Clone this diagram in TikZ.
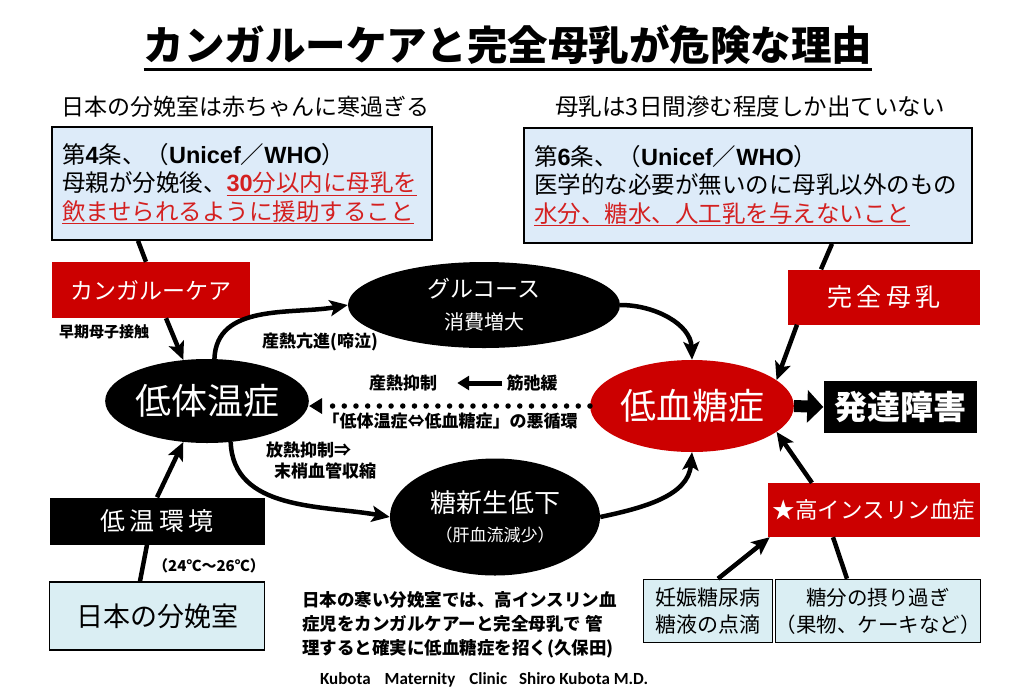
\documentclass[tikz,border=0pt]{standalone}
\usepackage{fontspec}
\setmainfont{Noto Sans CJK JP}
\newfontfamily\latinfont{Liberation Sans}
\newfontfamily\footfont{Carlito}
\usetikzlibrary{shapes.geometric,arrows.meta}
\definecolor{boxred}{HTML}{CC0000}
\definecolor{textred}{HTML}{D42020}
\definecolor{paleblue}{HTML}{DDEBF9}
\definecolor{palecyan}{HTML}{DAEEF3}
\newcommand{\fsz}[2]{\fontsize{#1pt}{#2pt}\selectfont}
\newcommand{\latb}{\latinfont\bfseries}
\newcommand{\redu}[1]{\textcolor{textred}{\underline{#1}}}
\begin{document}
\begin{tikzpicture}[x=1pt,y=-1pt,
  blk/.style={fill=black,text=white,inner sep=0pt},
  redbox/.style={fill=boxred,text=white,inner sep=0pt},
  art/.style={draw=black,line width=1.6pt,fill=paleblue,inner sep=0pt,align=left,font=\fsz{23.5}{28.5}},
  src/.style={draw=black,line width=1.6pt,fill=palecyan,inner sep=0pt,align=center},
  blob/.style={ellipse,fill=black,text=white,inner sep=0pt,align=center},
  arr/.style={line width=4.5pt,-{Stealth[length=18pt,width=16pt,inset=4pt]}},
  bar/.style={line width=4.5pt},
  lbl/.style={font=\fsz{17}{21}\bfseries,inner sep=0pt}]
\useasboundingbox (0,0) rectangle (1024,691);
\node[font=\fsz{40.5}{48}\bfseries,inner sep=0pt] (title) at (508,45) {カンガルーケアと完全母乳が危険な理由};
\draw[line width=3pt] ([yshift=-4pt]title.south west) -- ([yshift=-4pt]title.south east);
\node[font=\fsz{23}{28}] (subl) at (245,107) {日本の分娩室は赤ちゃんに寒過ぎる};
\node[font=\fsz{23.5}{28}] (subr) at (750,107) {母乳は3日間滲む程度しか出ていない};
\node[art,minimum width=380pt,minimum height=113pt,text width=360pt] (art4) at (242,183.5)
  {第{\latb 4}条、（{\latb Unicef}／{\latb WHO}）\\
   母親が分娩後、\redu{{\latb 30}分以内に母乳を}\\
   \redu{飲ませられるように援助すること}};
\node[art,minimum width=448pt,minimum height=115pt,text width=428pt] (art6) at (748,185.5)
  {第{\latb 6}条、（{\latb Unicef}／{\latb WHO}）\\
   医学的な必要が無いのに母乳以外のもの\\
   \redu{水分、糖水、人工乳を与えないこと}};
\node[redbox,minimum width=198pt,minimum height=56pt,font=\fsz{23}{28}] (kang) at (151,290) {カンガルーケア};
\node[redbox,minimum width=192pt,minimum height=55pt,font=\fsz{25}{30}] (kanzen) at (884,297) {完\,全\,母\,乳};
\node[lbl,font=\fsz{15}{18}\bfseries] (early) at (104,332) {早期母子接触};
\node[blob,minimum width=272pt,minimum height=86pt,font=\fsz{23}{32}] (gluc) at (484,305) {グルコース\\{\fsz{20}{24}消費増大}};
\node[blob,minimum width=190pt,minimum height=84pt,font=\fsz{36}{40}] (hypo) at (207,401) {低体温症};
\node[blob,fill=boxred,minimum width=190pt,minimum height=92pt,font=\fsz{36}{40}] (lbs) at (692,406) {低血糖症};
\node[blk,minimum width=153pt,minimum height=52pt,font=\fsz{33}{38}\bfseries] (dev) at (900,407) {発達障害};
\node[blob,minimum width=210pt,minimum height=117pt,font=\fsz{26}{29}] (neo) at (495,517) {糖新生低下\\{\fsz{17}{20}（肝血流減少）}};
\node[blk,minimum width=215pt,minimum height=47pt,font=\fsz{25}{30}] (cold) at (157,521) {低\,温\,環\,境};
\node[src,minimum width=215pt,minimum height=68pt,font=\fsz{27}{32}] (room) at (157,616) {日本の分娩室};
\node[lbl,font=\fsz{15}{18}\bfseries] (temp) at (209,566) {（24℃～26℃）};
\node[redbox,minimum width=212pt,minimum height=54pt,font=\fsz{22.5}{27}] (insulin) at (874,510) {★高インスリン血症};
\node[src,minimum width=129pt,minimum height=63pt,font=\fsz{21}{27}] (gdm) at (708,611) {妊娠糖尿病\\糖液の点滴};
\node[src,minimum width=200pt,minimum height=63pt,font=\fsz{20.5}{27}] (sugar) at (878,611) {糖分の摂り過ぎ\\（果物、ケーキなど）};
\node[lbl] (heat) at (320,342) {産熱亢進(啼泣)};
\node[lbl] (supp) at (403,383) {産熱抑制};
\node[lbl] (relax) at (532,383) {筋弛緩};
\node[lbl] (cycle) at (450,421) {「低体温症⇔低血糖症」の悪循環};
\node[lbl,align=left,anchor=north west] (vaso) at (266,442) {放熱抑制⇒\\\hspace{8pt}末梢血管収縮};
\node[lbl,font=\fsz{17.5}{24}\bfseries,align=left,anchor=north west] (note) at (302,591)
  {日本の寒い分娩室では、高インスリン血\\症児をカンガルケアーと完全母乳で 管\\理すると確実に低血糖症を招く(久保田)};
\node[font=\footfont\bfseries\fsz{17}{20},inner sep=0pt] (foot) at (484,680) {Kubota\hspace{14pt}Maternity\hspace{14pt}Clinic\hspace{12pt}Shiro Kubota M.D.};
\draw[bar] ([xshift=-104pt]art4.south) -- ([xshift=-96pt]art4.south |- kang.north);
\draw[arr] ([xshift=15pt]kang.south) -- (hypo.120);
\draw[bar] ([xshift=84pt]art6.south) -- ([xshift=-63pt]kanzen.north);
\draw[arr] ([xshift=-87pt]kanzen.south) -- (lbs.17);
\draw[arr] (hypo.80) to[out=88,in=190] (gluc.west);
\draw[arr] (gluc.east) to[out=0,in=92] (lbs.north);
\draw[arr] (hypo.-60) to[out=-88,in=170] (neo.west);
\draw[arr] (neo.east) to[out=12,in=-95] (lbs.south);
\draw[arr] (cold.north) -- (hypo.-120);
\draw[bar] ([xshift=-17pt]room.north) -- ([xshift=-10pt]cold.south);
\draw[arr] ([xshift=-62pt]insulin.north) -- (lbs.-17);
\draw[arr] ([xshift=10pt]gdm.north) -- ([xshift=2pt]insulin.south west);
\draw[bar] ([xshift=-31pt]sugar.north) -- ([xshift=-41pt]insulin.south);
\draw[line width=12pt,-{Triangle[length=16pt,width=32pt]}] (lbs.east) -- (dev.west);
\draw[line width=5.5pt,line cap=round,dash pattern=on 0pt off 11.7pt,-{Triangle[length=13pt,width=15pt]}] (lbs.west) -- (lbs.west -| hypo.east);
\draw[line width=5pt,-{Triangle[length=12pt,width=14pt]},shorten <=4pt,shorten >=20pt] (relax.west) -- (supp.east);
\end{tikzpicture}
\end{document}
